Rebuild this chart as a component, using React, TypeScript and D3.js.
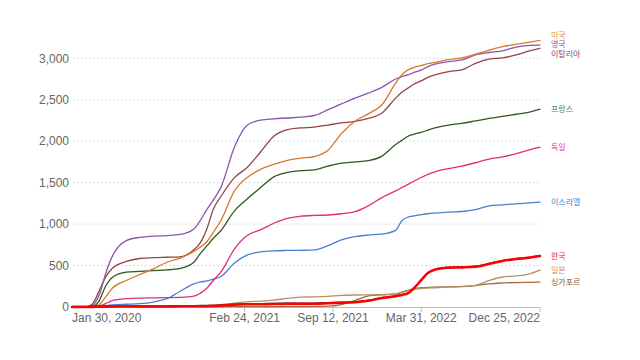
import React from "react";
import * as d3 from "d3";

const dates = [
  "2020-01-30", "2020-03-01", "2020-03-15", "2020-04-01", "2020-04-15", "2020-05-01",
  "2020-06-01", "2020-07-01", "2020-08-01", "2020-09-01", "2020-10-01", "2020-11-01",
  "2020-11-15", "2020-12-01", "2020-12-15", "2021-01-01", "2021-02-01", "2021-03-01",
  "2021-04-01", "2021-05-01", "2021-06-01", "2021-07-01", "2021-08-01", "2021-09-01",
  "2021-10-01", "2021-11-01", "2021-12-01", "2022-01-01", "2022-02-01", "2022-02-15",
  "2022-03-01", "2022-03-15", "2022-04-01", "2022-04-15", "2022-05-01", "2022-06-01",
  "2022-07-01", "2022-08-01", "2022-09-01", "2022-10-01", "2022-11-01", "2022-12-01",
  "2022-12-25",
];

const usa = [0, 0, 1, 30, 120, 230, 320, 390, 460, 540, 590, 670, 720, 790, 900, 1040, 1400, 1560, 1660, 1720, 1770, 1795, 1815, 1890, 2090, 2240, 2330, 2440, 2700, 2800, 2860, 2890, 2915, 2935, 2950, 2985, 3005, 3050, 3100, 3140, 3170, 3195, 3217];
const uk = [0, 0, 15, 150, 400, 620, 800, 840, 855, 862, 875, 940, 1040, 1180, 1290, 1440, 1930, 2190, 2255, 2270, 2280, 2290, 2310, 2380, 2450, 2520, 2580, 2650, 2750, 2780, 2800, 2830, 2860, 2900, 2930, 2960, 2980, 3040, 3070, 3090, 3135, 3155, 3160];
const italy = [0, 0, 30, 200, 360, 470, 550, 585, 595, 600, 605, 690, 770, 950, 1180, 1330, 1560, 1680, 1870, 2060, 2140, 2160, 2170, 2195, 2220, 2240, 2275, 2340, 2520, 2590, 2640, 2690, 2730, 2770, 2800, 2840, 2860, 2940, 2990, 3005, 3040, 3090, 3121];
const france = [0, 0, 2, 80, 250, 360, 420, 430, 440, 447, 465, 540, 640, 740, 830, 920, 1160, 1300, 1440, 1570, 1625, 1645, 1655, 1700, 1735, 1750, 1765, 1820, 1960, 2010, 2060, 2085, 2110, 2135, 2160, 2195, 2215, 2245, 2275, 2300, 2325, 2350, 2386];
const germany = [0, 0, 1, 12, 40, 80, 100, 108, 110, 112, 115, 130, 165, 230, 320, 420, 700, 860, 930, 1010, 1070, 1095, 1105, 1110, 1125, 1150, 1220, 1320, 1400, 1440, 1480, 1520, 1565, 1600, 1630, 1670, 1700, 1740, 1785, 1810, 1850, 1895, 1928];
const israel = [0, 0, 0, 4, 15, 25, 33, 40, 60, 100, 190, 280, 300, 315, 335, 365, 530, 625, 665, 678, 682, 684, 688, 740, 810, 850, 868, 880, 925, 1040, 1085, 1100, 1115, 1125, 1133, 1145, 1152, 1175, 1220, 1232, 1245, 1255, 1265];
const korea = [0, 0.5, 1.5, 3, 4, 5, 5.3, 5.5, 6, 6.5, 8, 9, 10, 10.5, 12, 18, 28, 32, 34, 35, 38, 39, 40, 45, 50, 58, 75, 108, 130, 145, 165, 230, 330, 410, 450, 472, 477, 485, 520, 555, 578, 595, 614];
const japan = [0, 0, 0, 0.5, 1.5, 3, 7, 8, 8.5, 10.5, 12.5, 14, 15, 17, 21, 28, 45, 62, 70, 82, 105, 118, 122, 128, 140, 145, 146, 147, 155, 175, 195, 212, 225, 229, 232, 240, 248, 262, 320, 362, 375, 400, 446];
const singapore = [0, 0, 0, 0, 0.5, 1.5, 4, 4.5, 4.5, 4.5, 4.5, 4.5, 4.5, 5, 5, 5, 5, 5, 5.5, 5.5, 6, 6, 7, 10, 30, 80, 135, 150, 158, 180, 200, 222, 232, 237, 240, 243, 246, 258, 280, 290, 295, 298, 301];

const yTicks = [0, 500, 1000, 1500, 2000, 2500, 3000];
const xTickDates = ["2020-01-30", "2021-02-24", "2021-09-12", "2022-03-31", "2022-12-25"];

type Series = { name: string; values: number[]; color: string; labelColor: string; width: number };

const series: Series[] = [
  { name: "싱가포르", values: singapore, color: "#a5693d", labelColor: "#8b5a2b", width: 1.3 },
  { name: "일본", values: japan, color: "#b8905f", labelColor: "#d08a50", width: 1.3 },
  { name: "이스라엘", values: israel, color: "#4a7fcc", labelColor: "#3f88d8", width: 1.3 },
  { name: "독일", values: germany, color: "#df2f7a", labelColor: "#e0408a", width: 1.3 },
  { name: "프랑스", values: france, color: "#2e5a1f", labelColor: "#3c8c3c", width: 1.3 },
  { name: "이탈리아", values: italy, color: "#934545", labelColor: "#8b4a78", width: 1.3 },
  { name: "영국", values: uk, color: "#8a55b0", labelColor: "#8a55b0", width: 1.3 },
  { name: "미국", values: usa, color: "#d9772b", labelColor: "#e0962a", width: 1.3 },
  { name: "한국", values: korea, color: "#ff0000", labelColor: "#ff2040", width: 2.5 },
];

const parse = d3.timeParse("%Y-%m-%d");
const fmt = d3.timeFormat("%b %-d, %Y");

export default function App() {
  const W = 640, H = 360;
  const x = d3.scaleTime().domain([parse(dates[0])!, parse(dates[dates.length - 1])!]).range([72, 540]);
  const y = d3.scaleLinear().domain([0, 3000]).range([307, 58.3]);
  const parsed = dates.map((d) => parse(d)!);
  const line = d3
    .line<number>()
    .x((_, i) => x(parsed[i]))
    .y((v) => y(v))
    .curve(d3.curveMonotoneX);

  // label placement with collision avoidance
  const labels = series.map((s) => ({ s, y: y(s.values[s.values.length - 1]) }));
  labels.sort((a, b) => a.y - b.y);
  const gap = 9.5;
  for (let iter = 0; iter < 200; iter++) {
    for (let i = 1; i < labels.length; i++) {
      const d = labels[i].y - labels[i - 1].y;
      if (d < gap) {
        const shift = (gap - d) / 2;
        labels[i].y += shift;
        labels[i - 1].y -= shift;
      }
    }
  }

  const font = "'Liberation Sans', Arial, sans-serif";
  const xTicks = xTickDates.map((d) => parse(d)!);

  return (
    <svg width={W} height={H} style={{ position: "absolute", left: 0, top: 0, background: "#fff" }}>
      {yTicks.filter((t) => t > 0).map((t) => (
        <line key={t} x1={73} x2={540} y1={y(t)} y2={y(t)} stroke="#dcdcdc" strokeDasharray="2,2" strokeWidth={1} />
      ))}
      {yTicks.map((t) => (
        <text key={"yl" + t} x={69} y={y(t)} dy="0.35em" textAnchor="end" fontFamily={font} fontSize={12} fill="#666">
          {d3.format(",")(t)}
        </text>
      ))}
      <line x1={72} x2={540} y1={307.5} y2={307.5} stroke="#bbb" strokeWidth={1} />
      {xTicks.map((t, i) => (
        <g key={"xt" + i}>
          {i > 0 && <line x1={x(t)} x2={x(t)} y1={307.5} y2={312} stroke="#bbb" strokeWidth={1} />}
          <text
            x={x(t)}
            y={322}
            textAnchor={i === 0 ? "start" : i === xTicks.length - 1 ? "end" : "middle"}
            fontFamily={font}
            fontSize={12}
            fill="#666"
          >
            {fmt(t)}
          </text>
        </g>
      ))}
      {series.map((s) => (
        <g key={s.name}>
          {s.name === "한국" && (
            <path d={line(s.values) || ""} fill="none" stroke="#2a2a5a" strokeWidth={1.4} transform="translate(0.6,-0.6)" />
          )}
          <path d={line(s.values) || ""} fill="none" stroke={s.color} strokeWidth={s.width} strokeLinejoin="round" strokeLinecap="round" />
        </g>
      ))}
      {labels.map((l) => (
        <text
          key={"lab" + l.s.name}
          x={551}
          y={l.y}
          dy="0.35em"
          fontFamily="'Noto Sans CJK KR', sans-serif"
          fontSize={8}
          fill={l.s.labelColor}
        >
          {l.s.name}
        </text>
      ))}
    </svg>
  );
}
